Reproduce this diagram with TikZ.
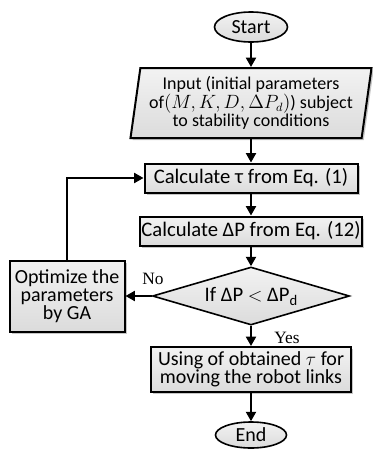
\documentclass[tikz,border=0pt]{standalone}
\usepackage{fontspec}
\setmainfont{Carlito}
\newfontfamily\labelfont{Liberation Serif}
\usetikzlibrary{arrows.meta,shapes.geometric,shadows}
\tikzset{
  shade/.style={top color=gray!10, bottom color=gray!28},
  block/.style={draw=black, line width=1.5pt, shade, align=center, inner sep=1pt,
    drop shadow={shadow xshift=1.6pt, shadow yshift=-1.6pt, opacity=0.45}},
  iobox/.style={block, trapezium, trapezium left angle=80, trapezium right angle=100,
    trapezium stretches body},
  term/.style={draw=black, line width=1.2pt, shade, ellipse, inner sep=0pt,
    font=\fontsize{15}{15}\selectfont},
  decision/.style={draw=black, line width=1.2pt, shade, diamond, aspect=3.4, inner sep=0pt,
    font=\fontsize{15.5}{15}\selectfont},
  arr/.style={-{Triangle[length=7pt,width=7.5pt]}, line width=1.4pt},
  lbl/.style={font=\labelfont\fontsize{13}{13}\selectfont, inner sep=0pt}
}

\begin{document}
\begin{tikzpicture}[x=0.75pt, y=-0.75pt, font=\fontsize{13.5}{12.5}\selectfont]
  \useasboundingbox (0,0) rectangle (373,457);

  \node[term, minimum width=54.75pt, minimum height=22.5pt] (start) at (251,27) {Start};
  \node[iobox, minimum width=180.75pt, minimum height=52.5pt] (input) at (251,103)
    {Input (initial parameters\\ of$(M,K,D,\Delta P_d)$) subject\\ to stability conditions};
  \node[block, minimum width=159.75pt, minimum height=21.75pt, font=\fontsize{15.5}{15}\selectfont] (tau) at (251,178)
    {Calculate τ from Eq. (1)};
  \node[block, minimum width=165pt, minimum height=21.75pt, font=\fontsize{15.5}{15}\selectfont] (dp) at (251,231)
    {Calculate ΔP from Eq. (12)};
  \node[decision, minimum width=147.75pt, minimum height=43.5pt] (dec) at (251,296)
    {If ΔP $<$ ΔP\raisebox{-0.4ex}{\fontsize{11}{11}\selectfont d}};
  \node[block, minimum width=86.25pt, minimum height=53.25pt, font=\fontsize{15}{13.5}\selectfont] (opt) at (67,296)
    {Optimize the\\ parameters\\ by GA};
  \node[block, minimum width=150pt, minimum height=33.75pt, font=\fontsize{15}{13.5}\selectfont] (use) at (251,369.5)
    {Using of obtained $\tau$ for\\ moving the robot links};
  \node[term, minimum width=53.25pt, minimum height=19.5pt] (end) at (251,435) {End};

  \node[lbl] (no) at (153,279) {No};
  \node[lbl] (yes) at (287,338) {Yes};

  \draw[arr] (start) -- (input);
  \draw[arr] (input) -- (tau);
  \draw[arr] (tau) -- (dp);
  \draw[arr] (dp) -- (dec);
  \draw[arr] (dec) -- (use);
  \draw[arr] (use) -- (end);
  \draw[arr] (dec) -- (opt);
  \draw[arr] (opt) |- (tau);
\end{tikzpicture}
\end{document}
